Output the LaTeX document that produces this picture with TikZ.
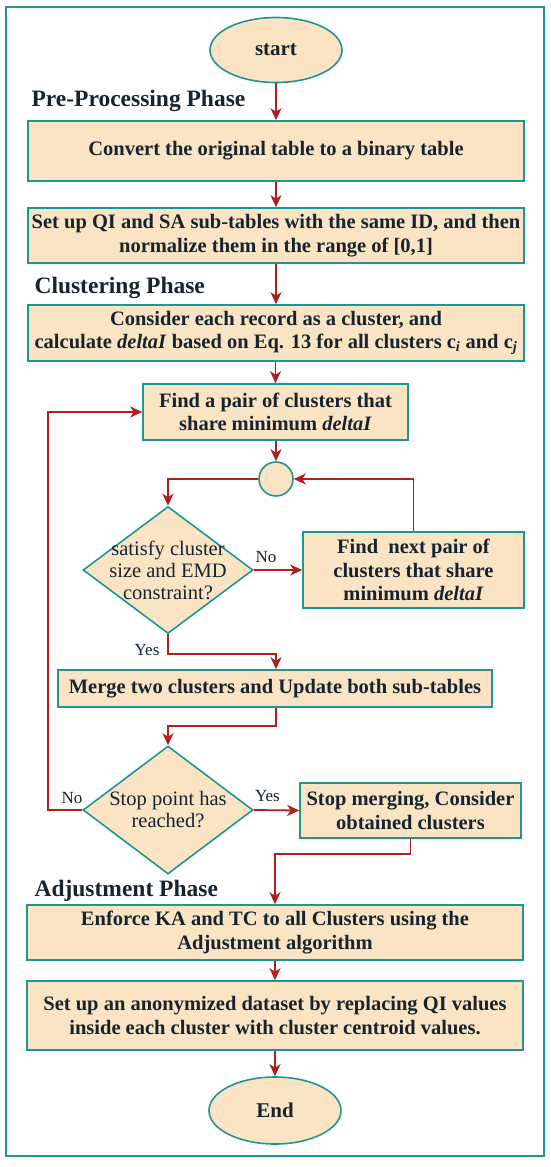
\documentclass[tikz,border=0pt]{standalone}
\usepackage{fontspec}
\setmainfont{Liberation Serif}
\usetikzlibrary{shapes.geometric,arrows.meta}
\definecolor{fillc}{RGB}{250,228,195}
\definecolor{edgec}{RGB}{32,150,148}
\definecolor{arrc}{RGB}{178,30,30}
\definecolor{txtc}{RGB}{22,36,48}
\tikzset{
  box/.style={draw=edgec,fill=fillc,line width=1.6pt,inner sep=0pt,align=center,text=txtc,
    font=\fontsize{20.5}{23.5}\selectfont\bfseries},
  term/.style={ellipse,draw=edgec,fill=fillc,line width=1.6pt,inner sep=0pt,text=txtc,
    font=\fontsize{21}{24}\selectfont\bfseries},
  dec/.style={diamond,draw=edgec,fill=fillc,line width=1.6pt,inner sep=0pt},
  dtext/.style={align=center,text=txtc,font=\fontsize{20.5}{22}\selectfont},
  phase/.style={anchor=west,text=txtc,font=\fontsize{23.5}{26}\selectfont\bfseries},
  lbl/.style={text=txtc,font=\fontsize{17}{19}\selectfont},
  conn/.style={draw=arrc,line width=1.8pt},
  arr/.style={conn,-{Stealth[length=12pt,width=11pt,inset=3.5pt]}}
}
\begin{document}
\begin{tikzpicture}[x=1pt,y=-1pt]
\useasboundingbox (0,0) rectangle (550,1167);
\draw[edgec,line width=2pt] (6,7) rectangle (544,1156);

\node[term,minimum width=132,minimum height=65] (start) at (276,50) {start};
\node[phase] (p1) at (28,101) {Pre-Processing Phase};
\node[box,minimum width=496,minimum height=60] (b1) at (276,151) {Convert the original table to a binary table};
\node[box,minimum width=496,minimum height=55] (b2) at (276,235.5) {Set up QI and SA sub-tables with the same ID, and then\\normalize them in the range of [0,1]};
\node[phase] (p2) at (31,288) {Clustering Phase};
\node[box,minimum width=496,minimum height=56] (b3) at (276,333) {Consider each record as a cluster, and\\calculate \textit{deltaI} based on Eq. 13 for all clusters c\textsubscript{\textit{i}} and c\textsubscript{\textit{j}}};
\node[box,minimum width=265,minimum height=56] (b4) at (275.5,412) {Find a pair of clusters that\\share minimum \textit{deltaI}};
\node[circle,draw=edgec,fill=fillc,line width=1.6pt,minimum size=34,inner sep=0pt] (c1) at (276,479) {};
\node[dec,minimum width=170,minimum height=127,label={[dtext]center:satisfy cluster\\size and EMD\\constraint?}] (d1) at (168,570) {};
\node[box,minimum width=221,minimum height=76] (b5) at (413.5,570) {Find\ \ next pair of\\clusters that share\\minimum \textit{deltaI}};
\node[box,minimum width=434,minimum height=37] (b6) at (275,688.5) {Merge two clusters and Update both sub-tables};
\node[dec,minimum width=170,minimum height=128,label={[dtext]center:Stop point has\\reached?}] (d2) at (168,810) {};
\node[box,minimum width=221,minimum height=55] (b7) at (410.5,810.5) {Stop merging, Consider\\obtained clusters};
\node[phase] (p3) at (31,891) {Adjustment Phase};
\node[box,minimum width=496,minimum height=55] (b8) at (275,932.5) {Enforce KA and TC to all Clusters using the\\Adjustment algorithm};
\node[box,minimum width=496,minimum height=69] (b9) at (275,1015.5) {Set up an anonymized dataset by replacing QI values\\inside each cluster with cluster centroid values.};
\node[term,minimum width=132,minimum height=67] (end) at (275,1110.5) {End};

\draw[arr] (start) -- (b1);
\draw[arr] (b1) -- (b2);
\draw[arr] (b2) -- (b3);
\draw[arr] (b3.south -| b4.north) -- (b4);
\draw[arr] (b4.south -| c1) -- (c1);
\draw[arr] (c1.west) -| (d1.north);
\draw[arr] (b5.north) |- (c1.east);
\draw[arr] (d1.east) -- (b5.west) node[lbl,pos=0.25,above=3pt] (no1) {No};
\draw[arr] (d1.south) -- ++(0,20) -| (b6.north -| c1);
\node[lbl] (yes1) at (147,650) {Yes};
\draw[arr] (b6.south -| c1) -- ++(0,18) -| (d2.north);
\draw[arr] (d2.east) -- (b7.west) node[lbl,pos=0.3,above=4pt] (yes2) {Yes};
\coordinate (lp) at (48,810);
\draw[arr] (d2.west) -- (lp) |- (b4.west);
\node[lbl] (no2) at (72,798) {No};
\draw[arr] (b7.south) -- ++(0,15) -| (b8.north);
\draw[arr] (b8) -- (b9);
\draw[arr] (b9) -- (end);
\end{tikzpicture}
\end{document}
